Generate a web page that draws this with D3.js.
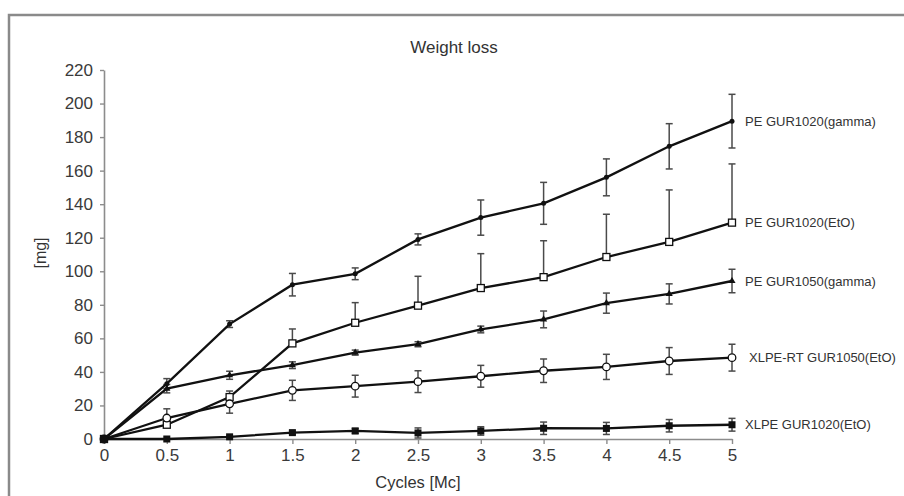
<!DOCTYPE html>
<html>
<head>
<meta charset="utf-8">
<title>Weight loss</title>
<style>
  body { margin: 0; background: #fff; }
  svg { display: block; font-family: "Liberation Sans", Arial, sans-serif; }
</style>
</head>
<body>
<svg></svg>
<script src="https://d3js.org/d3.v7.min.js"></script>
<script>
// data
var cycles = [0, 0.5, 1, 1.5, 2, 2.5, 3, 3.5, 4, 4.5, 5];
var xTicks = [0, 0.5, 1, 1.5, 2, 2.5, 3, 3.5, 4, 4.5, 5];
var yTicks = [0, 20, 40, 60, 80, 100, 120, 140, 160, 180, 200, 220];

var seriesNames = ["PE GUR1020(gamma)", "PE GUR1020(EtO)", "PE GUR1050(gamma)", "XLPE-RT GUR1050(EtO)", "XLPE GUR1020(EtO)"];

var peGamma1020 = [0, 33, 68.5, 92, 98.5, 119, 132, 140.5, 156, 174.5, 189.5];
var peGamma1020Err = [0, 3, 2, 6.7, 3.5, 3.3, 10.5, 12.5, 11, 13.5, 16];

var peEto1020 = [0, 8.5, 25, 57, 69.3, 79.5, 90, 96.5, 108.5, 117.5, 129];
var peEto1020Err = [0, 2, 3.6, 8.6, 12, 17.5, 20.5, 21.7, 25.5, 31, 35];

var peGamma1050 = [0, 30, 38, 44, 51.5, 56.5, 65.3, 71.3, 81, 86.5, 94.2];
var peGamma1050Err = [0, 2.5, 2.4, 2, 1.5, 1.5, 2, 5, 6, 6, 7];

var xlpeRt1050 = [0, 12.5, 21, 29, 31.5, 34.2, 37.4, 40.7, 43, 46.5, 48.5];
var xlpeRt1050Err = [0, 5.5, 5.6, 6, 6.5, 6.5, 6.5, 7, 7.5, 8, 8];

var xlpe1020 = [0, 0, 1.3, 3.8, 4.8, 3.6, 4.8, 6.4, 6.3, 7.9, 8.5];
var xlpe1020Err = [0, 0, 0.5, 1, 1.5, 3, 2.5, 3.7, 3.6, 3.7, 3.8];

var W = 904, H = 496;
var svg = d3.select("svg").attr("width", W).attr("height", H);

// frame (only top and left edges show in the picture)
svg.append("path")
    .attr("d", "M9,496 L9,15 L904,15")
    .attr("fill", "none")
    .attr("stroke", "#8a8a8a")
    .attr("stroke-width", 2.5);

var x = d3.scaleLinear().domain([0, 5]).range([104, 732]);
var y = d3.scaleLinear().domain([0, 220]).range([439, 70]);

// axes
var yAxis = svg.append("g")
    .attr("transform", "translate(104,0)")
    .call(d3.axisLeft(y).tickValues(yTicks).tickSize(4).tickPadding(7).tickSizeOuter(0));
var xAxis = svg.append("g")
    .attr("transform", "translate(0,439)")
    .call(d3.axisBottom(x).tickValues(xTicks).tickSize(5).tickPadding(5).tickSizeOuter(0)
        .tickFormat(function(d) { return d3.format("")(d); }));

[xAxis, yAxis].forEach(function(a) {
    a.select(".domain").attr("stroke", "#8c8c8c").attr("stroke-width", 1.6);
    a.selectAll(".tick line").attr("stroke", "#8c8c8c").attr("stroke-width", 1.4);
    a.selectAll(".tick text").attr("fill", "#3a3a3a").style("font-size", "17px");
});

// titles
svg.append("text")
    .attr("x", 454).attr("y", 53)
    .attr("text-anchor", "middle")
    .style("font-size", "17px").attr("fill", "#333")
    .text("Weight loss");

svg.append("text")
    .attr("transform", "translate(46,253) rotate(-90)")
    .attr("text-anchor", "middle")
    .style("font-size", "16px").attr("fill", "#333")
    .text("[mg]");

svg.append("text")
    .attr("x", 418).attr("y", 488)
    .attr("text-anchor", "middle")
    .style("font-size", "16.5px").attr("fill", "#333")
    .text("Cycles [Mc]");

var series = [
    { name: seriesNames[0], v: peGamma1020, e: peGamma1020Err, up: false, marker: "dot", lx: 745 },
    { name: seriesNames[1], v: peEto1020, e: peEto1020Err, up: true, marker: "osquare", lx: 745 },
    { name: seriesNames[2], v: peGamma1050, e: peGamma1050Err, up: false, marker: "triangle", lx: 745 },
    { name: seriesNames[3], v: xlpeRt1050, e: xlpeRt1050Err, up: false, marker: "ocircle", lx: 749 },
    { name: seriesNames[4], v: xlpe1020, e: xlpe1020Err, up: false, marker: "fsquare", lx: 745 }
];

var line = d3.line()
    .x(function(d) { return x(d[0]); })
    .y(function(d) { return y(d[1]); });

// error bars first, then lines, then markers
series.forEach(function(s) {
    var pts = cycles.map(function(c, i) { return [c, s.v[i], s.e[i]]; })
        .filter(function(d) { return d[2] > 0; });
    var g = svg.append("g").attr("stroke", "#4a4a4a").attr("stroke-width", 1.5);
    g.selectAll("line.bar").data(pts).enter().append("line")
        .attr("x1", function(d) { return x(d[0]); })
        .attr("x2", function(d) { return x(d[0]); })
        .attr("y1", function(d) { return y(d[1] + d[2]); })
        .attr("y2", function(d) { return s.up ? y(d[1]) : y(d[1] - d[2]); });
    g.selectAll("line.top").data(pts).enter().append("line")
        .attr("x1", function(d) { return x(d[0]) - 3.5; })
        .attr("x2", function(d) { return x(d[0]) + 3.5; })
        .attr("y1", function(d) { return y(d[1] + d[2]); })
        .attr("y2", function(d) { return y(d[1] + d[2]); });
    if (!s.up) {
        g.selectAll("line.bot").data(pts).enter().append("line")
            .attr("x1", function(d) { return x(d[0]) - 3.5; })
            .attr("x2", function(d) { return x(d[0]) + 3.5; })
            .attr("y1", function(d) { return y(d[1] - d[2]); })
            .attr("y2", function(d) { return y(d[1] - d[2]); });
    }
});

series.forEach(function(s) {
    svg.append("path")
        .datum(cycles.map(function(c, i) { return [c, s.v[i]]; }))
        .attr("d", line)
        .attr("fill", "none")
        .attr("stroke", "#111")
        .attr("stroke-width", 2.3);
});

series.forEach(function(s) {
    var pts = cycles.map(function(c, i) { return [c, s.v[i]]; });
    var g = svg.append("g");
    if (s.marker == "dot") {
        g.selectAll("circle").data(pts).enter().append("circle")
            .attr("cx", function(d) { return x(d[0]); })
            .attr("cy", function(d) { return y(d[1]); })
            .attr("r", 2.5).attr("fill", "#111");
    } else if (s.marker == "ocircle") {
        g.selectAll("circle").data(pts).enter().append("circle")
            .attr("cx", function(d) { return x(d[0]); })
            .attr("cy", function(d) { return y(d[1]); })
            .attr("r", 3.8).attr("fill", "#fff").attr("stroke", "#111").attr("stroke-width", 1.3);
    } else if (s.marker == "osquare") {
        g.selectAll("rect").data(pts).enter().append("rect")
            .attr("x", function(d) { return x(d[0]) - 3.5; })
            .attr("y", function(d) { return y(d[1]) - 3.5; })
            .attr("width", 7).attr("height", 7)
            .attr("fill", "#fff").attr("stroke", "#111").attr("stroke-width", 1.3);
    } else if (s.marker == "fsquare") {
        g.selectAll("rect").data(pts).enter().append("rect")
            .attr("x", function(d) { return x(d[0]) - 3.5; })
            .attr("y", function(d) { return y(d[1]) - 3.5; })
            .attr("width", 7).attr("height", 7)
            .attr("fill", "#111");
    } else {
        g.selectAll("path").data(pts).enter().append("path")
            .attr("d", d3.symbol().type(d3.symbolTriangle).size(22))
            .attr("transform", function(d) { return "translate(" + x(d[0]) + "," + y(d[1]) + ")"; })
            .attr("fill", "#111");
    }
    // label at the end of each line
    var last = s.v[s.v.length - 1];
    svg.append("text")
        .attr("x", s.lx)
        .attr("y", y(last))
        .attr("dy", "0.35em")
        .style("font-size", "13px")
        .attr("fill", "#333")
        .text(s.name);
});

// origin blob where every series starts
svg.append("circle")
    .attr("cx", x(cycles[0])).attr("cy", y(0))
    .attr("r", 4).attr("fill", "#111");
</script>
</body>
</html>
